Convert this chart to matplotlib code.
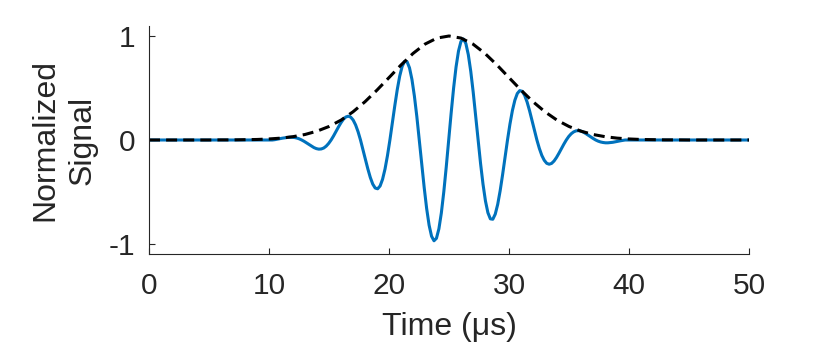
import numpy as np
import matplotlib.pyplot as plt

plt.rcParams['font.family'] = ['Liberation Sans', 'DejaVu Sans']

# sampling of the burst trace (us): first sample, last sample, count
T_FIRST = 10.275
T_LAST = 39.675
N_SAMPLES = 145

signal = [
    0.0, 0.003, 0.008, 0.012, 0.017, 0.021, 0.024, 0.026, 0.026, 0.024, 0.019, 0.011,
    0.0, -0.013, -0.028, -0.044, -0.059, -0.073, -0.083, -0.088, -0.086, -0.077, -0.059, -0.033,
    0.0, 0.039, 0.082, 0.125, 0.165, 0.199, 0.221, 0.229, 0.220, 0.192, 0.145, 0.080,
    0.0, -0.091, -0.186, -0.278, -0.360, -0.424, -0.462, -0.469, -0.442, -0.378, -0.280, -0.151,
    0.0, 0.164, 0.330, 0.484, 0.614, 0.708, 0.756, 0.753, 0.694, 0.582, 0.422, 0.224,
    0.0, -0.233, -0.458, -0.659, -0.819, -0.925, -0.969, -0.945, -0.854, -0.701, -0.498, -0.259,
    0.0, 0.259, 0.499, 0.702, 0.855, 0.947, 0.971, 0.928, 0.821, 0.661, 0.460, 0.234,
    0.0, -0.225, -0.424, -0.586, -0.699, -0.758, -0.762, -0.713, -0.619, -0.488, -0.333, -0.166,
    0.0, 0.153, 0.283, 0.382, 0.447, 0.475, 0.468, 0.429, 0.365, 0.282, 0.188, 0.092,
    0.0, -0.081, -0.148, -0.195, -0.224, -0.233, -0.225, -0.202, -0.168, -0.127, -0.083, -0.040,
    0.0, 0.034, 0.060, 0.078, 0.088, 0.090, 0.085, 0.075, 0.061, 0.045, 0.029, 0.014,
    0.0, -0.011, -0.019, -0.024, -0.027, -0.027, -0.025, -0.022, -0.017, -0.013, -0.008, -0.004,
    0.0,
]

env_time = list(range(0, 51))
envelope = [
    0.0, 0.0, 0.0, 0.0, 0.0, 0.0, 0.001, 0.001, 0.003, 0.005,
    0.010, 0.018, 0.032, 0.053, 0.085, 0.130, 0.191, 0.271, 0.368, 0.480,
    0.600, 0.721, 0.832, 0.922, 0.980, 1.000, 0.980, 0.922, 0.832, 0.721,
    0.600, 0.480, 0.368, 0.271, 0.191, 0.130, 0.085, 0.053, 0.032, 0.018,
    0.010, 0.005, 0.003, 0.001, 0.001, 0.0, 0.0, 0.0, 0.0, 0.0, 0.0,
]

x_ticks = [0, 10, 20, 30, 40, 50]
y_ticks = [-1, 0, 1]

BLUE = '#0072BD'
AXCOL = '#262626'


def build_trace():
    t = np.linspace(T_FIRST, T_LAST, N_SAMPLES)
    # flat before and after the burst
    t = np.concatenate(([0.0], t, [50.0]))
    y = np.concatenate(([0.0], signal, [0.0]))
    return t, y


def draw():
    fig = plt.figure(figsize=(8.3, 3.47), dpi=100)
    ax = fig.add_axes([149 / 830, 1 - 254.4 / 347, 600 / 830, 228.8 / 347])

    t, y = build_trace()
    ax.plot(t, y, color=BLUE, lw=2.2, solid_capstyle='round')
    ax.plot(env_time, envelope, color='black', lw=2.2, linestyle=(0, (3.6, 2.0)))

    ax.set_xlim(0, 50)
    ax.set_ylim(-1.1, 1.1)
    ax.set_xticks(x_ticks)
    ax.set_yticks(y_ticks)
    ax.set_yticklabels([str(v) for v in y_ticks])

    ax.spines['right'].set_visible(False)
    ax.spines['top'].set_visible(False)
    for s in ['left', 'bottom']:
        ax.spines[s].set_color(AXCOL)
        ax.spines[s].set_linewidth(0.8)
    ax.tick_params(direction='in', length=4.5, width=0.8, colors=AXCOL,
                   labelsize=21.5, labelcolor=AXCOL)
    ax.tick_params(axis='x', pad=13)
    ax.tick_params(axis='y', pad=10)

    ax.set_xlabel('Time (μs)', fontsize=23, color=AXCOL, labelpad=8)
    ax.set_ylabel('Normalized\nSignal', fontsize=23, color=AXCOL, labelpad=8,
                  linespacing=1.3)

    fig.savefig('out.png', dpi=100)


draw()
